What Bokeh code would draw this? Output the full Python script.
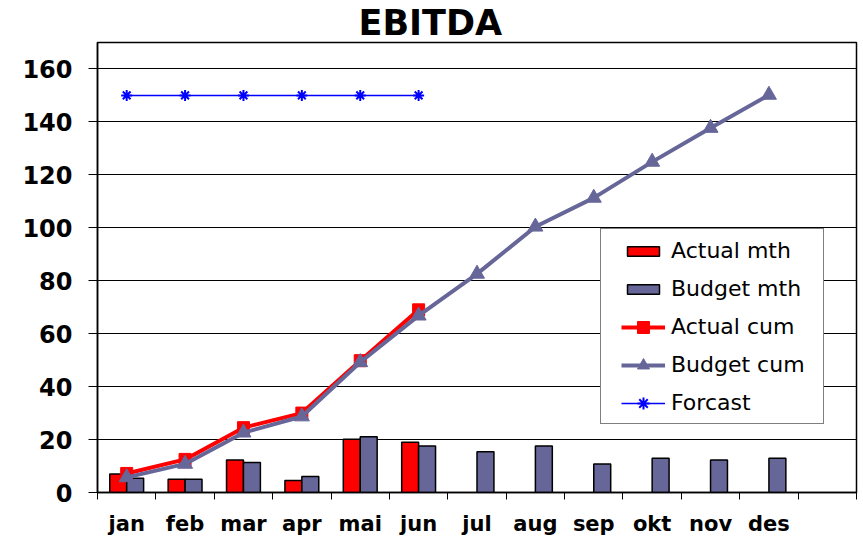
from bokeh.plotting import figure
from bokeh.models import (Range1d, FixedTicker, Legend, LegendItem, ColumnDataSource)
from bokeh.transform import dodge
from bokeh.embed import file_html
from bokeh.resources import INLINE

months = ["jan", "feb", "mar", "apr", "mai", "jun", "jul", "aug", "sep", "okt", "nov", "des"]
month_pos = [1, 2, 3, 4, 5, 6, 7, 8, 9, 10, 11, 12]
actual_mth = [7.0, 5.0, 12.3, 4.5, 20.1, 19.0]
budget_mth = [5.4, 5.0, 11.3, 6.0, 21.1, 17.6, 15.4, 17.6, 10.8, 12.9, 12.3, 12.9]
actual_cum = [7.2, 12.5, 24.5, 30.0, 49.8, 69.0]
budget_cum = [5.7, 10.8, 22.6, 28.7, 49.2, 66.8, 82.6, 100.4, 111.3, 124.9, 137.7, 150.2]
forcast = [150, 150, 150, 150, 150, 150]
y_ticks = [0, 20, 40, 60, 80, 100, 120, 140, 160]
legend_labels = ["Actual mth", "Budget mth", "Actual cum", "Budget cum", "Forcast"]

RED = "#FF0000"
BUD = "#666699"
BLUE = "#0000FF"
FONT = "DejaVu Sans"

src_a = ColumnDataSource(dict(x=month_pos[:6], mth=actual_mth, cum=actual_cum, fc=forcast))
src_b = ColumnDataSource(dict(x=month_pos, mth=budget_mth, cum=budget_cum))

p = figure(width=860, height=538, output_backend="svg", toolbar_location=None,
           x_range=Range1d(0.5, 13.5), y_range=Range1d(0, 170),
           min_border_left=97, min_border_right=4, min_border_bottom=45,
           title="EBITDA")

p.title.text_font = FONT
p.title.text_font_style = "bold"
p.title.text_font_size = "35px"
p.title.text_color = "black"
p.title.align = "left"
p.title.offset = 261
p.title.standoff = 0

p.outline_line_color = "black"
p.outline_line_width = 1.5
p.background_fill_color = "white"
p.border_fill_color = "white"

p.xgrid.visible = False
p.ygrid.grid_line_color = "black"
p.ygrid.grid_line_width = 1

# x axis: labels at slot centres, tick marks at slot boundaries (minor ticks)
p.xaxis.ticker = FixedTicker(ticks=month_pos,
                             minor_ticks=[0.5 + i for i in range(14)])
p.xaxis.major_label_overrides = {m: lbl for m, lbl in zip(month_pos, months)}
p.xaxis.major_tick_line_color = None
p.xaxis.minor_tick_line_color = "black"
p.xaxis.minor_tick_out = 7
p.xaxis.minor_tick_in = 0
p.xaxis.axis_line_color = "black"
p.xaxis.axis_line_width = 1.5
p.xaxis.major_label_text_font = FONT
p.xaxis.major_label_text_font_style = "bold"
p.xaxis.major_label_text_font_size = "21px"
p.xaxis.major_label_text_color = "black"
p.xaxis.major_label_standoff = 12

p.yaxis.ticker = FixedTicker(ticks=y_ticks)
p.yaxis.major_tick_out = 9
p.yaxis.major_tick_in = 0
p.yaxis.minor_tick_line_color = None
p.yaxis.major_tick_line_color = "black"
p.yaxis.axis_line_color = "black"
p.yaxis.axis_line_width = 1.5
p.yaxis.major_label_text_font = FONT
p.yaxis.major_label_text_font_style = "bold"
p.yaxis.major_label_text_font_size = "24px"
p.yaxis.major_label_text_color = "black"
p.yaxis.major_label_standoff = 16

bw = 0.29
r_am = p.vbar(x=dodge("x", -0.145, range=p.x_range), top="mth", width=bw, bottom=0,
              source=src_a, fill_color=RED, line_color="black", line_width=1.5)
r_bm = p.vbar(x=dodge("x", 0.145, range=p.x_range), top="mth", width=bw, bottom=0,
              source=src_b, fill_color=BUD, line_color="black", line_width=1.5)

r_acl = p.line("x", "cum", source=src_a, line_color=RED, line_width=4)
r_acs = p.scatter("x", "cum", source=src_a, marker="square", size=12,
                  fill_color=RED, line_color=RED)
r_bcl = p.line("x", "cum", source=src_b, line_color=BUD, line_width=4)
r_bcs = p.scatter("x", "cum", source=src_b, marker="triangle", size=15,
                  fill_color=BUD, line_color=BUD)
r_fl = p.line("x", "fc", source=src_a, line_color=BLUE, line_width=1.5)
r_fs = p.scatter("x", "fc", source=src_a, marker="asterisk", size=11,
                 line_color=BLUE, line_width=2)

# invisible renderer used by the box/label legend
r_dummy = p.line(x=[], y=[], line_alpha=0)

# Legend A: box + labels
leg_a = Legend(items=[LegendItem(label=t, renderers=[r_dummy]) for t in legend_labels],
               location=(503, 68))
leg_a.label_text_font = FONT
leg_a.label_text_font_size = "22px"
leg_a.label_text_color = "black"
leg_a.border_line_color = "black"
leg_a.border_line_width = 1.5
leg_a.background_fill_color = "white"
leg_a.background_fill_alpha = 1
leg_a.padding = 8
leg_a.spacing = 12
leg_a.label_height = 26
leg_a.glyph_height = 26
leg_a.glyph_width = 55
leg_a.label_standoff = 7
leg_a.label_width = 144
leg_a.margin = 0
p.add_layout(leg_a, "center")

# Legend B: bar swatches
leg_b = Legend(items=[LegendItem(label=" ", renderers=[r_am]),
                      LegendItem(label=" ", renderers=[r_bm])],
               location=(526, 197))
leg_b.label_text_font_size = "1px"
leg_b.border_line_color = None
leg_b.background_fill_alpha = 0
leg_b.padding = 0
leg_b.spacing = 26
leg_b.label_height = 12
leg_b.glyph_height = 12
leg_b.glyph_width = 40
leg_b.label_standoff = 0
leg_b.label_width = 0
leg_b.margin = 0
p.add_layout(leg_b, "center")

# Legend C: line swatches with markers
leg_c = Legend(items=[LegendItem(label=" ", renderers=[r_acl, r_acs]),
                      LegendItem(label=" ", renderers=[r_bcl, r_bcs]),
                      LegendItem(label=" ", renderers=[r_fl, r_fs])],
               location=(524, 74))
leg_c.label_text_font_size = "1px"
leg_c.border_line_color = None
leg_c.background_fill_alpha = 0
leg_c.padding = 0
leg_c.spacing = 8
leg_c.label_height = 30
leg_c.glyph_height = 30
leg_c.glyph_width = 44
leg_c.label_standoff = 0
leg_c.label_width = 0
leg_c.margin = 0
p.add_layout(leg_c, "center")

with open("out.html", "w") as f:
    f.write(file_html(p, INLINE))
